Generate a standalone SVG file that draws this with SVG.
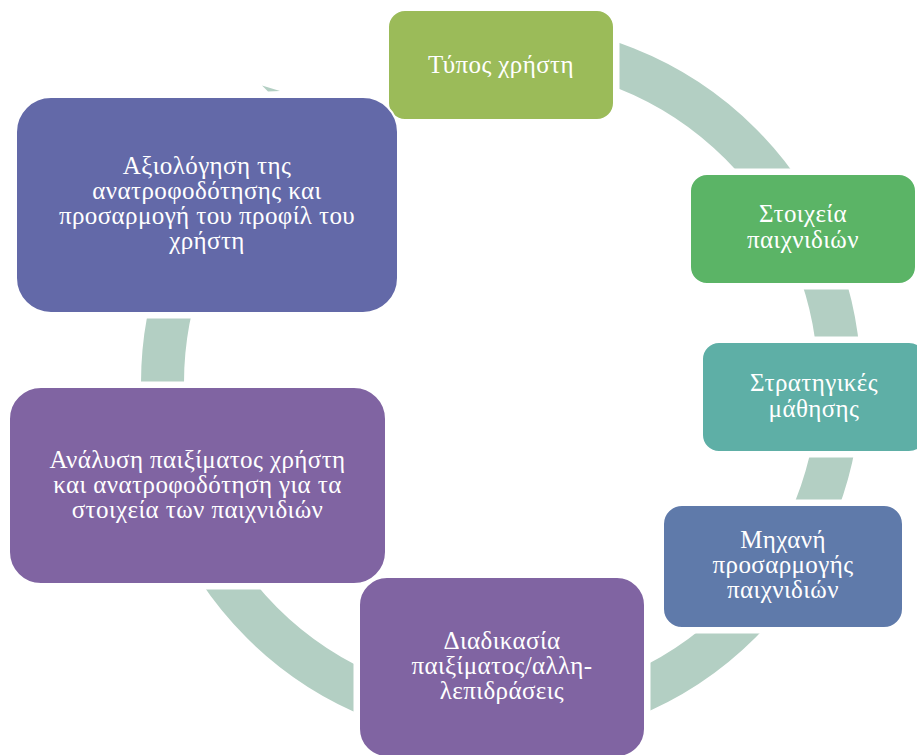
<svg xmlns="http://www.w3.org/2000/svg" width="917" height="755" viewBox="0 0 917 755">
<style>
.box{stroke:#fff;stroke-width:2}
.t{font-family:"Liberation Serif","DejaVu Serif",serif;font-size:25px;letter-spacing:0.4px;fill:#fff;text-anchor:middle}
</style>
<defs>
<mask id="m" maskUnits="userSpaceOnUse" x="0" y="0" width="917" height="755">
<rect width="917" height="755" fill="#fff"/>
<g fill="#000">
<rect x="382.5" y="4.5" width="237" height="121"/>
<rect x="684.5" y="168.5" width="237" height="121"/>
<rect x="696.5" y="336.5" width="235" height="121"/>
<rect x="657.5" y="499.5" width="251" height="134"/>
<rect x="353.5" y="571.5" width="297" height="191"/>
<rect x="3.5" y="381.5" width="388" height="208"/>
<rect x="10.5" y="91.5" width="393" height="227"/>
<rect x="0" y="0" width="394" height="100"/>
</g>
</mask>
</defs>
<g id="connectors">
<circle cx="501" cy="383" r="338.5" fill="none" stroke="#b3cfc3" stroke-width="43" mask="url(#m)"/>
<polygon points="262,85.5 280,91 268,91.5" fill="#b3cfc3"/>
</g>
<g id="n1"><rect class="box" x="388" y="10" width="226" height="110" rx="17" fill="#9bbb59"/>
<text class="t" x="501" y="73">Τύπος χρήστη</text></g>
<g id="n2"><rect class="box" x="690" y="174" width="226" height="110" rx="17" fill="#5bb466"/>
<text class="t" x="803"><tspan x="803" y="222">Στοιχεία</tspan><tspan x="803" y="248">παιχνιδιών</tspan></text></g>
<g id="n3"><rect class="box" x="702" y="342" width="224" height="110" rx="17" fill="#5eafa6"/>
<text class="t" x="814"><tspan x="814" y="391">Στρατηγικές</tspan><tspan x="814" y="417">μάθησης</tspan></text></g>
<g id="n4"><rect class="box" x="663" y="505" width="240" height="123" rx="19" fill="#5f7aaa"/>
<text class="t" x="783"><tspan x="783" y="548">Μηχανή</tspan><tspan x="783" y="573">προσαρμογής</tspan><tspan x="783" y="598">παιχνιδιών</tspan></text></g>
<g id="n5"><rect class="box" x="359" y="577" width="286" height="180" rx="28" fill="#8064a2"/>
<text class="t" x="502"><tspan x="502" y="649">Διαδικασία</tspan><tspan x="502" y="674">παιξίματος/αλλη-</tspan><tspan x="502" y="699">λεπιδράσεις</tspan></text></g>
<g id="n6"><rect class="box" x="9" y="387" width="377" height="197" rx="32" fill="#8064a2"/>
<text class="t" x="197.5"><tspan x="197.5" y="468">Ανάλυση παιξίματος χρήστη</tspan><tspan x="197.5" y="493">και ανατροφοδότηση για τα</tspan><tspan x="197.5" y="518">στοιχεία των παιχνιδιών</tspan></text></g>
<g id="n7"><rect class="box" x="16" y="97" width="382" height="216" rx="35" fill="#6369a8"/>
<text class="t" x="207"><tspan x="207" y="174">Αξιολόγηση της</tspan><tspan x="207" y="199">ανατροφοδότησης και</tspan><tspan x="207" y="224">προσαρμογή του προφίλ του</tspan><tspan x="207" y="249">χρήστη</tspan></text></g>
</svg>
